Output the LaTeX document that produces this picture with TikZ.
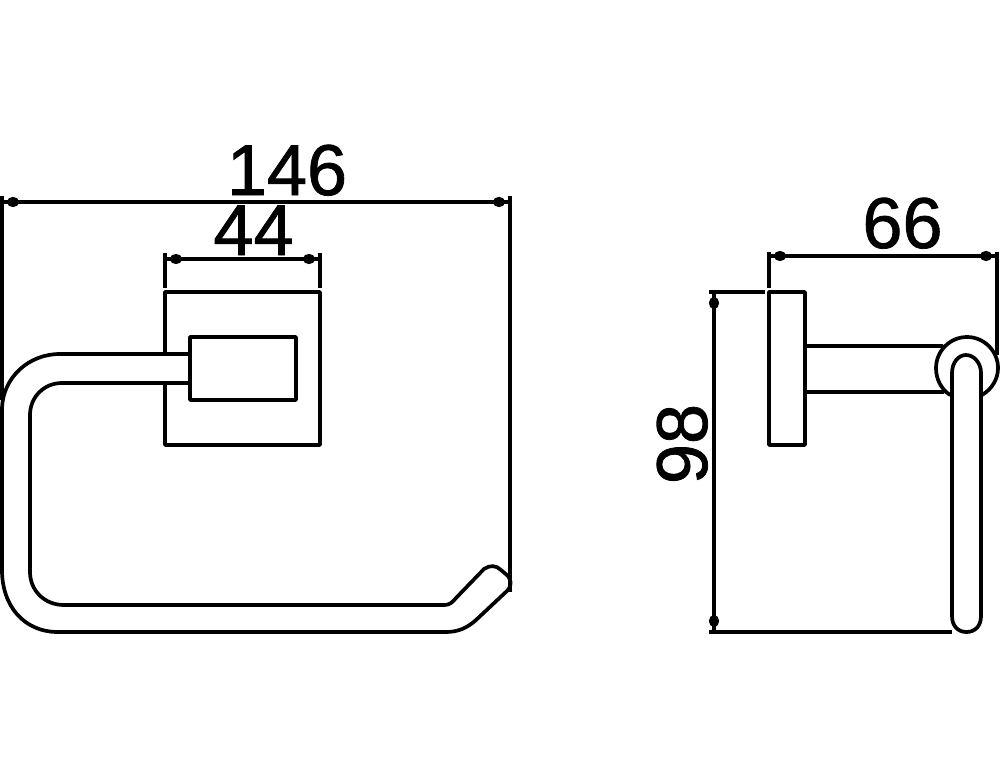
\documentclass[tikz,border=0pt]{standalone}
\usepackage{fontspec}
\setmainfont{Liberation Sans}
\newfontfamily\dimfont[FakeBold=1.1]{Liberation Sans}
\usetikzlibrary{arrows.meta}
\tikzset{
  part/.style={line width=3.7pt,line join=round,line cap=round,black},
  basedim/.style={line width=3.3pt,black},
  dimline/.style={line width=3.3pt,black,{Circle[length=12pt,width=10pt]}-{Circle[length=12pt,width=10pt]},shorten <=5pt,shorten >=5pt},
  extline/.style={line width=3.2pt,black},
  dimtext/.style={inner sep=0pt,anchor=base,font=\dimfont\fontsize{72}{72}\selectfont,text=black}
}
\begin{document}
\begin{tikzpicture}[x=1pt,y=-1pt]
\useasboundingbox (0,0) rectangle (1000,778);
% front view: extension lines
\draw[extline] (2,196) -- (2,400);
\draw[extline] (510,196) -- (510,592);
\draw[extline] (165,253) -- (165,288);
\draw[extline] (320,253) -- (320,288);
\coordinate (a1) at (2,202); \coordinate (a2) at (510,202);
\coordinate (b1) at (165,259); \coordinate (b2) at (320,259);
\draw[basedim] (a1) -- (a2);
\draw[basedim] (b1) -- (b2);
\draw[dimline] (a1) -- (a2);
\draw[dimline] (b1) -- (b2);
\node[dimtext] (t146) at (287,195) {146};
\node[dimtext] (t44) at (253.5,255) {44};
% front view: plate
\draw[part] (165,354) -- (165,292) -- (320,292) -- (320,445) -- (165,445) -- (165,383);
\draw[part] (190,337) rectangle (296,400);
% front view: ring
\draw[part] (190,354) -- (60,354) .. controls (28,354) and (3,378) .. (2,408)
  -- (2,570) .. controls (2,606) and (24,632) .. (58,632)
  -- (446,632) .. controls (458,632) and (467,628) .. (476,620)
  -- (508,590) .. controls (512,585) and (511,580) .. (508,576)
  -- (501,570) .. controls (496,565) and (490,565) .. (484,569)
  -- (456,598) .. controls (452,603) and (449,605) .. (444,605)
  -- (64,605) .. controls (44,605) and (30,590) .. (30,572)
  -- (30,415) .. controls (30,397) and (44,383) .. (62,383) -- (190,383);
% side view: extension lines
\draw[extline] (769,252) -- (769,288);
\draw[extline] (997,252) -- (997,355);
\draw[extline] (709,292) -- (765,292);
\draw[extline] (709,632) -- (952,632);
\coordinate (c1) at (769,256); \coordinate (c2) at (997,256);
\coordinate (d1) at (714,292); \coordinate (d2) at (714,632);
\draw[basedim] (c1) -- (c2);
\draw[basedim] (d1) -- (d2);
\draw[dimline] (c1) -- (c2);
\draw[dimline] (d1) -- (d2);
\node[dimtext] (t66) at (902.5,248) {66};
\node[dimtext,rotate=90] (t98) at (707,444) {98};
% side view: plate, arm, ring section
\draw[part] (769,292) rectangle (805,445);
\draw[part] (805,346) -- (942,346);
\draw[part] (805,392) -- (943,392);
\draw[part] (950,395) .. controls (941,389) and (936,379) .. (936,368)
  .. controls (936,351) and (950,337) .. (967,337)
  .. controls (984,337) and (998,351) .. (998,368)
  .. controls (998,379) and (992,389) .. (982,395);
\draw[part] (952,616) -- (952,373) .. controls (952,363) and (958,355) .. (966,355)
  .. controls (974,355) and (981,363) .. (981,373) -- (981,616)
  .. controls (981,626) and (975,632) .. (966.5,632)
  .. controls (958,632) and (952,626) .. (952,616);
\end{tikzpicture}
\end{document}
